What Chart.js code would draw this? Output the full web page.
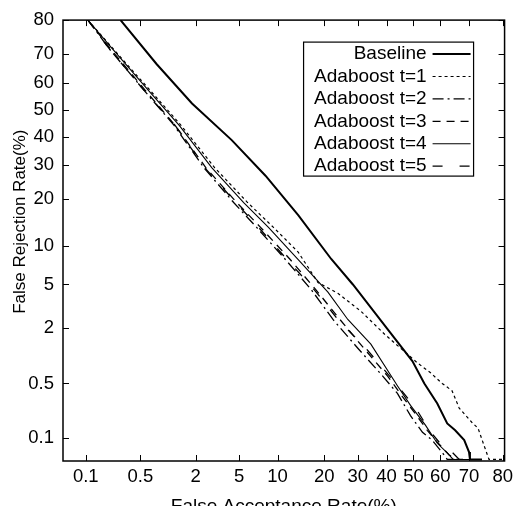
<!DOCTYPE html>
<html>
<head>
<meta charset="utf-8">
<script src="https://cdn.jsdelivr.net/npm/chart.js@4.4.1/dist/chart.umd.min.js"></script>
<style>
html,body{margin:0;padding:0;overflow:hidden;background:#fff;}
#wrap{position:relative;width:518px;height:520px;}
</style>
</head>
<body>
<div id="wrap"><canvas id="c"></canvas></div>
<script>
// ---- tick marks (percent) ----
const tickPercents = [0.1, 0.5, 2, 5, 10, 20, 30, 40, 50, 60, 70, 80];
const tickLabels = ['0.1', '0.5', '2', '5', '10', '20', '30', '40', '50', '60', '70', '80'];

// ---- series names ----
const seriesNames = ['Baseline', 'Adaboost t=1', 'Adaboost t=2', 'Adaboost t=3', 'Adaboost t=4', 'Adaboost t=5'];

// ---- series values: false acceptance (%) and false rejection (%) ----
const baselineFA = [0.287, 0.77, 1.84, 4.33, 8.15, 13.9, 21.9, 28.4, 40.0, 49.6, 54.1, 58.9, 62.5, 65.3, 68.4, 70.0, 70.3, 74.1];
const baselineFR = [80, 66.6, 52.3, 38.7, 26.7, 16.0, 8.0, 5.0, 2.0, 0.9, 0.5, 0.285, 0.158, 0.128, 0.094, 0.064, 0.05, 0.05];

const t1FA = [0.107, 0.234, 0.67, 1.42, 3.05, 5.89, 9.34, 13.86, 18.4, 23.8, 31.0, 39.3, 45.2, 51.5, 56.3, 60.7, 64.2, 66.7, 70.9, 72.9, 74.7, 76.2, 82];
const t1FR = [80, 71.5, 56.7, 44.1, 29.2, 19.1, 13.4, 9.0, 5.2, 4.2, 2.9, 1.73, 1.24, 0.86, 0.67, 0.50, 0.41, 0.25, 0.164, 0.136, 0.080, 0.05, 0.05];

const t2FA = [0.107, 0.208, 0.57, 1.20, 2.41, 4.50, 6.96, 11.4, 16.8, 22.4, 30.0, 38.6, 44.0, 48.9, 53.4, 57.0, 61.4, 62.5, 65];
const t2FR = [80, 71.5, 56.7, 44.1, 29.2, 19.1, 13.4, 7.9, 4.5, 2.42, 1.24, 0.61, 0.38, 0.20, 0.12, 0.094, 0.058, 0.05, 0.05];

const t3FA = [0.107, 0.215, 0.59, 1.23, 2.52, 4.78, 7.47, 12.3, 17.9, 24.4, 32.0, 40.4, 45.5, 50.8, 55.2, 58.9, 63.2, 66.0, 68];
const t3FR = [80, 71.5, 56.7, 44.1, 29.2, 19.1, 13.4, 7.9, 4.5, 2.42, 1.24, 0.61, 0.36, 0.21, 0.128, 0.088, 0.058, 0.05, 0.05];

const t4FA = [0.107, 0.228, 0.64, 1.36, 2.87, 5.47, 8.58, 13.86, 21.0, 26.8, 34.4, 44.0, 48.9, 54.5, 58.9, 62.5, 64.6, 71];
const t4FR = [80, 71.5, 56.7, 44.1, 29.2, 19.1, 13.4, 7.9, 4.3, 2.42, 1.37, 0.47, 0.27, 0.15, 0.085, 0.062, 0.05, 0.05];

const t5FA = [0.107, 0.208, 0.57, 1.23, 2.46, 4.69, 7.2, 11.7, 17.5, 23.8, 32.7, 41.1, 47.0, 51.5, 56.0, 59.6, 64.2, 66.7, 70];
const t5FR = [80, 71.5, 56.7, 44.1, 29.2, 19.1, 13.4, 7.9, 4.5, 2.42, 1.24, 0.61, 0.36, 0.23, 0.128, 0.088, 0.064, 0.05, 0.05];

// axis ranges (percent)
const xRangePct = [0.0475, 80.5];
const yRangePct = [0.0475, 80];

// ---- normal deviate (probit) transform for the DET axes ----
function probit(p) {
  const a = [-3.969683028665376e+01, 2.209460984245205e+02, -2.759285104469687e+02, 1.383577518672690e+02, -3.066479806614716e+01, 2.506628277459239e+00];
  const b = [-5.447609879822406e+01, 1.615858368580409e+02, -1.556989798598866e+02, 6.680131188771972e+01, -1.328068155288572e+01];
  const c = [-7.784894002430293e-03, -3.223964580411365e-01, -2.400758277161838e+00, -2.549732516548077e+00, 4.374664141464968e+00, 2.938163982698783e+00];
  const d = [7.784695709041462e-03, 3.224671290700398e-01, 2.445134137142996e+00, 3.754408661907416e+00];
  const plow = 0.02425, phigh = 1 - plow;
  let q, r;
  if (p < plow) {
    q = Math.sqrt(-2 * Math.log(p));
    return (((((c[0]*q+c[1])*q+c[2])*q+c[3])*q+c[4])*q+c[5]) / ((((d[0]*q+d[1])*q+d[2])*q+d[3])*q+1);
  } else if (p <= phigh) {
    q = p - 0.5; r = q*q;
    return (((((a[0]*r+a[1])*r+a[2])*r+a[3])*r+a[4])*r+a[5])*q / (((((b[0]*r+b[1])*r+b[2])*r+b[3])*r+b[4])*r+1);
  } else {
    q = Math.sqrt(-2 * Math.log(1 - p));
    return -(((((c[0]*q+c[1])*q+c[2])*q+c[3])*q+c[4])*q+c[5]) / ((((d[0]*q+d[1])*q+d[2])*q+d[3])*q+1);
  }
}
const toPts = (fa, fr) => fa.map((v, i) => ({ x: probit(v / 100), y: probit(fr[i] / 100) }));

const FONT = "'Liberation Sans', Arial, Helvetica, sans-serif";

const seriesFA = [baselineFA, t1FA, t2FA, t3FA, t4FA, t5FA];
const seriesFR = [baselineFR, t1FR, t2FR, t3FR, t4FR, t5FR];
const styles = [
  { borderWidth: 2, borderDash: [] },
  { borderWidth: 1.2, borderDash: [3, 3] },
  { borderWidth: 1.3, borderDash: [11, 4, 2, 4] },
  { borderWidth: 1.3, borderDash: [8, 6] },
  { borderWidth: 1.1, borderDash: [] },
  { borderWidth: 1.3, borderDash: [10, 17] }
];

const datasets = seriesNames.map((name, i) => ({
  label: name,
  data: toPts(seriesFA[i], seriesFR[i]),
  showLine: true,
  fill: false,
  pointRadius: 0,
  borderColor: '#000',
  backgroundColor: '#000',
  borderWidth: styles[i].borderWidth,
  borderDash: styles[i].borderDash,
  tension: 0
}));

const probitTicks = () => tickPercents.map(p => ({ value: probit(p / 100) }));

const framePlugin = {
  id: 'frameAndLegend',
  afterDraw(chart) {
    const { ctx, chartArea: a, scales: { x, y } } = chart;
    ctx.save();
    ctx.strokeStyle = '#000';
    ctx.setLineDash([]);
    // inward tick marks on all four sides
    ctx.lineWidth = 1;
    const L = 6;
    ctx.beginPath();
    x.ticks.forEach(t => {
      const px = Math.round(x.getPixelForValue(t.value)) + 0.5;
      ctx.moveTo(px, a.bottom); ctx.lineTo(px, a.bottom - L);
      ctx.moveTo(px, a.top); ctx.lineTo(px, a.top + L);
    });
    y.ticks.forEach(t => {
      const py = Math.round(y.getPixelForValue(t.value)) + 0.5;
      ctx.moveTo(a.left, py); ctx.lineTo(a.left + L, py);
      ctx.moveTo(a.right, py); ctx.lineTo(a.right - L, py);
    });
    ctx.stroke();
    // frame
    ctx.lineWidth = 1.5;
    ctx.strokeRect(a.left, a.top, a.right - a.left, a.bottom - a.top);

    // legend box (top right, inside plot)
    const bx0 = a.right - 201, bx1 = a.right - 31, by0 = a.top + 22, by1 = a.top + 156;
    ctx.fillStyle = '#fff';
    ctx.fillRect(bx0, by0, bx1 - bx0, by1 - by0);
    ctx.lineWidth = 1.2;
    ctx.strokeRect(bx0, by0, bx1 - bx0, by1 - by0);
    ctx.font = '19px ' + FONT;
    ctx.textAlign = 'right';
    ctx.textBaseline = 'middle';
    ctx.fillStyle = '#000';
    chart.data.datasets.forEach((ds, i) => {
      const yy = by0 + 12 + i * 22.4;
      ctx.fillText(ds.label, bx1 - 47, yy);
      ctx.lineWidth = ds.borderWidth;
      ctx.setLineDash(ds.borderDash || []);
      ctx.beginPath();
      ctx.moveTo(bx1 - 41, yy);
      ctx.lineTo(bx1 - 3, yy);
      ctx.stroke();
    });
    ctx.restore();
  }
};

new Chart(document.getElementById('c'), {
  type: 'scatter',
  data: { datasets },
  options: {
    responsive: true,
    maintainAspectRatio: false,
    animation: false,
    layout: { padding: { top: 16, right: 10, left: 0, bottom: 0 } },
    plugins: { legend: { display: false }, tooltip: { enabled: false } },
    scales: {
      x: {
        type: 'linear',
        min: probit(xRangePct[0] / 100),
        max: probit(xRangePct[1] / 100),
        afterBuildTicks: s => { s.ticks = probitTicks(); },
        afterFit: s => { s.height = 59; },
        grid: { display: false, drawTicks: false },
        border: { display: false },
        ticks: {
          autoSkip: false, maxRotation: 0, minRotation: 0, padding: 5, color: '#000',
          font: { family: FONT, size: 18.5 },
          callback: (v, i) => tickLabels[i]
        },
        title: {
          display: true, text: 'False Acceptance Rate(%)', color: '#000',
          font: { family: FONT, size: 19 }, padding: { top: 0, bottom: 2 }
        }
      },
      y: {
        type: 'linear',
        min: probit(yRangePct[0] / 100),
        max: probit(yRangePct[1] / 100),
        afterBuildTicks: s => { s.ticks = probitTicks(); },
        afterFit: s => { s.width = 63; },
        grid: { display: false, drawTicks: false },
        border: { display: false },
        ticks: {
          autoSkip: false, padding: 9, color: '#000',
          font: { family: FONT, size: 18.5 },
          callback: (v, i) => tickLabels[i]
        },
        title: {
          display: true, text: '\u00A0\u00A0\u00A0\u00A0\u00A0\u00A0\u00A0\u00A0False Rejection Rate(%)', color: '#000',
          font: { family: FONT, size: 17 }, padding: { top: 10, bottom: 0 }
        }
      }
    }
  },
  plugins: [framePlugin]
});
</script>
</body>
</html>
